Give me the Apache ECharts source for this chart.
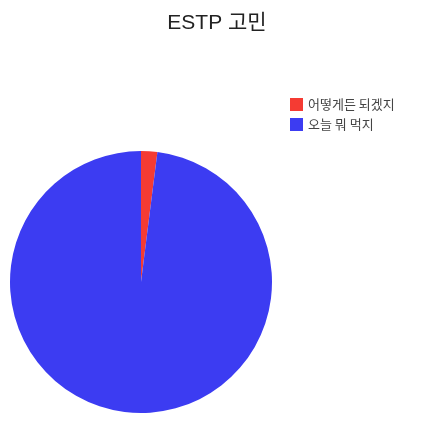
<!DOCTYPE html>
<html>
<head>
    <meta charset="utf-8">
    <title>ESTP 고민</title>
    <script src="https://cdn.jsdelivr.net/npm/echarts@6/dist/echarts.min.js"></script>
    <style>
        html, body { margin: 0; padding: 0; background: #fff; }
        #chart { width: 434px; height: 425px; }
    </style>
</head>
<body>
<div id="chart"></div>
<script>
    var categories = ['어떻게든 되겠지', '오늘 뭐 먹지'];
    var values = [2, 98];
    var colors = ['#f53b33', '#3c3cf2'];

    var chart = echarts.init(document.getElementById('chart'));
    var option = {
        title: {
            text: 'ESTP 고민',
            left: 'center',
            top: 8,
            textStyle: {
                fontFamily: 'Liberation Sans, Noto Sans CJK KR, sans-serif',
                fontSize: 21,
                fontWeight: 'normal',
                color: '#222'
            }
        },
        legend: {
            orient: 'vertical',
            left: 285,
            top: 93,
            itemWidth: 13,
            itemHeight: 13,
            itemGap: 7,
            icon: 'rect',
            data: categories,
            textStyle: {
                fontFamily: 'Noto Sans CJK KR, sans-serif',
                fontSize: 13,
                color: '#444'
            }
        },
        series: [{
            type: 'pie',
            center: [141, 282],
            radius: 131,
            startAngle: 90,
            clockwise: true,
            label: { show: false },
            labelLine: { show: false },
            emphasis: { disabled: true },
            animation: false,
            data: categories.map(function (name, i) {
                return { name: name, value: values[i], itemStyle: { color: colors[i] } };
            })
        }]
    };
    chart.setOption(option);
</script>
</body>
</html>
